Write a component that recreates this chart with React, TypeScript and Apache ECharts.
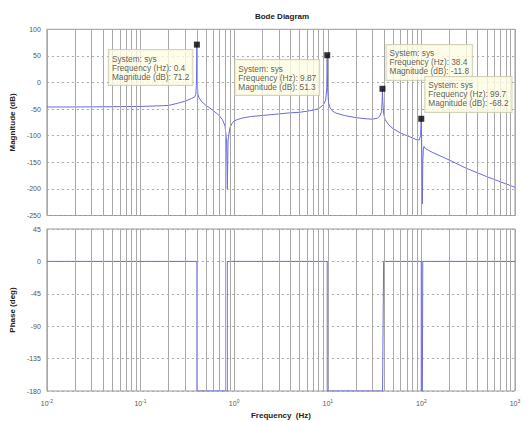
import React, { useEffect, useRef } from 'react';
import * as echarts from 'echarts';

const magFreq = [0.01, 0.02, 0.05, 0.1, 0.15, 0.2, 0.25, 0.3, 0.35, 0.38, 0.39, 0.395, 0.4, 0.405, 0.41, 0.42, 0.45, 0.5, 0.55, 0.6, 0.65, 0.7, 0.75, 0.8, 0.83, 0.845, 0.86, 0.9, 0.95, 1.0, 1.2, 1.5, 2, 3, 4, 5, 6, 7, 8, 9, 9.5, 9.75, 9.87, 9.95, 10.2, 10.5, 11, 12, 15, 20, 25, 30, 34, 36, 37.5, 38.1, 38.4, 38.7, 39.5, 41, 45, 50, 60, 70, 80, 90, 95, 98, 99.7, 100.5, 101.5, 102.5, 103.5, 105, 107, 110, 130, 200, 300, 500, 1000];
const magDb = [-46, -46, -45.5, -45, -44, -43, -39, -35, -30, -27, -22, -5, 71.2, -5, -22, -28, -36, -43, -48, -53, -58, -63, -70, -82, -110, -200, -110, -85, -77, -72, -67, -64, -62, -59, -57, -56, -54, -52, -49, -42, -33, -10, 51.3, -10, -38, -46, -52, -57, -62, -66, -68, -69, -67, -63, -55, -35, -11.8, -35, -58, -70, -80, -87, -95, -100, -104, -108, -108, -100, -68.2, -105, -150, -228, -150, -125, -120, -124, -131, -146, -161, -177, -197];

const phaseFreq = [0.01, 0.4, 0.4, 0.845, 0.845, 9.87, 9.87, 38.5, 39.5, 99.7, 99.7, 102.5, 103.5, 1000];
const phaseDeg = [0, 0, -180, -180, 0, 0, -180, -180, 0, 0, -180, -180, 0, 0];

const peakFreq = [0.4, 9.87, 38.4, 99.7];
const peakDb = [71.2, 51.3, -11.8, -68.2];
const peakFreqText = ['0.4', '9.87', '38.4', '99.7'];
const peakDbText = ['71.2', '51.3', '-11.8', '-68.2'];

const xExponents = [-2, -1, 0, 1, 2, 3];
const minorMultipliers = [2, 3, 4, 5, 6, 7, 8, 9];

const FONT = 'Liberation Sans, Arial, sans-serif';
const LINE = '#6b6be0';
const GRIDC = '#a8a8a8';

export default function App() {
  const ref = useRef<HTMLDivElement>(null);
  useEffect(() => {
    const chart = echarts.init(ref.current!, null, { renderer: 'svg' });

    const minorLines: any[] = [];
    xExponents.slice(0, -1).forEach((e) => {
      minorMultipliers.forEach((m) => minorLines.push({ xAxis: m * Math.pow(10, e) }));
    });
    const markLine = {
      silent: true,
      symbol: 'none',
      label: { show: false },
      lineStyle: { color: GRIDC, type: 'solid', width: 1 },
      data: minorLines,
      animation: false,
    };

    const labelPos: any[] = [
      { position: [-85, 8.4], verticalAlign: 'top' },
      { position: [-89, 7.8], verticalAlign: 'top' },
      { position: [7, -5.8], verticalAlign: 'bottom' },
      { position: [7, -3.8], verticalAlign: 'bottom' },
    ];

    const xAxisBase = (gridIndex: number, showLabels: boolean) => ({
      type: 'log',
      logBase: 10,
      gridIndex,
      min: 0.01,
      max: 1000,
      axisLine: { show: false },
      axisTick: { show: false },
      splitLine: { show: true, lineStyle: { color: GRIDC, type: 'solid', width: 1 } },
      axisLabel: {
        show: showLabels,
        margin: 7,
        formatter: (v: number) => {
          const e = Math.round(Math.log10(v));
          return '{b|10}{s|' + e + '}';
        },
        rich: {
          b: { fontSize: 7, color: '#555', fontFamily: FONT },
          s: { fontSize: 5, color: '#555', fontFamily: FONT, verticalAlign: 'top', padding: [0, 0, 5, 0] },
        },
      },
      name: showLabels ? 'Frequency  (Hz)' : '',
      nameLocation: 'middle',
      nameGap: 20,
      nameTextStyle: { fontSize: 8, fontWeight: 'bold', color: '#222', fontFamily: FONT },
    });

    chart.setOption({
      animation: false,
      backgroundColor: '#ffffff',
      title: {
        text: 'Bode Diagram',
        left: 277,
        textAlign: 'center',
        top: 7,
        textStyle: { fontSize: 8, fontWeight: 'bold', color: '#222', fontFamily: FONT },
      },
      grid: [
        { left: 43.5, top: 29.3, width: 471.5, height: 186.2, show: true, borderColor: '#999', borderWidth: 1, backgroundColor: 'transparent' },
        { left: 43.5, top: 229, width: 471.5, height: 162, show: true, borderColor: '#999', borderWidth: 1, backgroundColor: 'transparent' },
      ],
      xAxis: [xAxisBase(0, false), xAxisBase(1, true)],
      yAxis: [
        {
          type: 'value',
          gridIndex: 0,
          min: -250,
          max: 100,
          interval: 50,
          axisLine: { show: false },
          axisTick: { show: false },
          splitLine: { show: true, lineStyle: { color: GRIDC, type: [2, 3], width: 1 } },
          axisLabel: { fontSize: 7, color: '#555', fontFamily: FONT, margin: 6 },
          name: 'Magnitude (dB)',
          nameLocation: 'middle',
          nameGap: 29,
          nameTextStyle: { fontSize: 8, fontWeight: 'bold', color: '#222', fontFamily: FONT },
        },
        {
          type: 'value',
          gridIndex: 1,
          min: -180,
          max: 45,
          interval: 45,
          axisLine: { show: false },
          axisTick: { show: false },
          splitLine: { show: true, lineStyle: { color: GRIDC, type: [2, 3], width: 1 } },
          axisLabel: { fontSize: 7, color: '#555', fontFamily: FONT, margin: 6 },
          name: 'Phase (deg)',
          nameLocation: 'middle',
          nameGap: 29,
          nameTextStyle: { fontSize: 8, fontWeight: 'bold', color: '#222', fontFamily: FONT },
        },
      ],
      series: [
        {
          type: 'line',
          xAxisIndex: 0,
          yAxisIndex: 0,
          data: magFreq.map((f, i) => [f, magDb[i]]),
          showSymbol: false,
          lineStyle: { color: LINE, width: 1 },
          itemStyle: { color: LINE },
          markLine,
          z: 3,
        },
        {
          type: 'line',
          xAxisIndex: 1,
          yAxisIndex: 1,
          data: phaseFreq.map((f, i) => [f, phaseDeg[i]]),
          showSymbol: false,
          lineStyle: { color: LINE, width: 1 },
          itemStyle: { color: LINE },
          markLine,
          z: 3,
        },
        {
          type: 'scatter',
          xAxisIndex: 0,
          yAxisIndex: 0,
          symbol: 'rect',
          symbolSize: 6,
          itemStyle: { color: '#000' },
          z: 5,
          data: peakFreq.map((f, i) => ({
            value: [f, peakDb[i]],
            label: {
              show: true,
              align: 'left',
              ...labelPos[i],
              formatter: 'System: sys\nFrequency (Hz): ' + peakFreqText[i] + '\nMagnitude (dB): ' + peakDbText[i],
              fontSize: 8.3,
              lineHeight: 9,
              color: '#333',
              fontFamily: FONT,
              backgroundColor: '#fdfde4',
              borderColor: '#c8c8b0',
              borderWidth: 1,
              padding: [4, 3, 4, 3],
            },
          })),
        },
      ],
    });
    return () => chart.dispose();
  }, []);
  return <div ref={ref} style={{ position: 'fixed', left: 0, top: 0, width: 527, height: 421 }} />;
}
